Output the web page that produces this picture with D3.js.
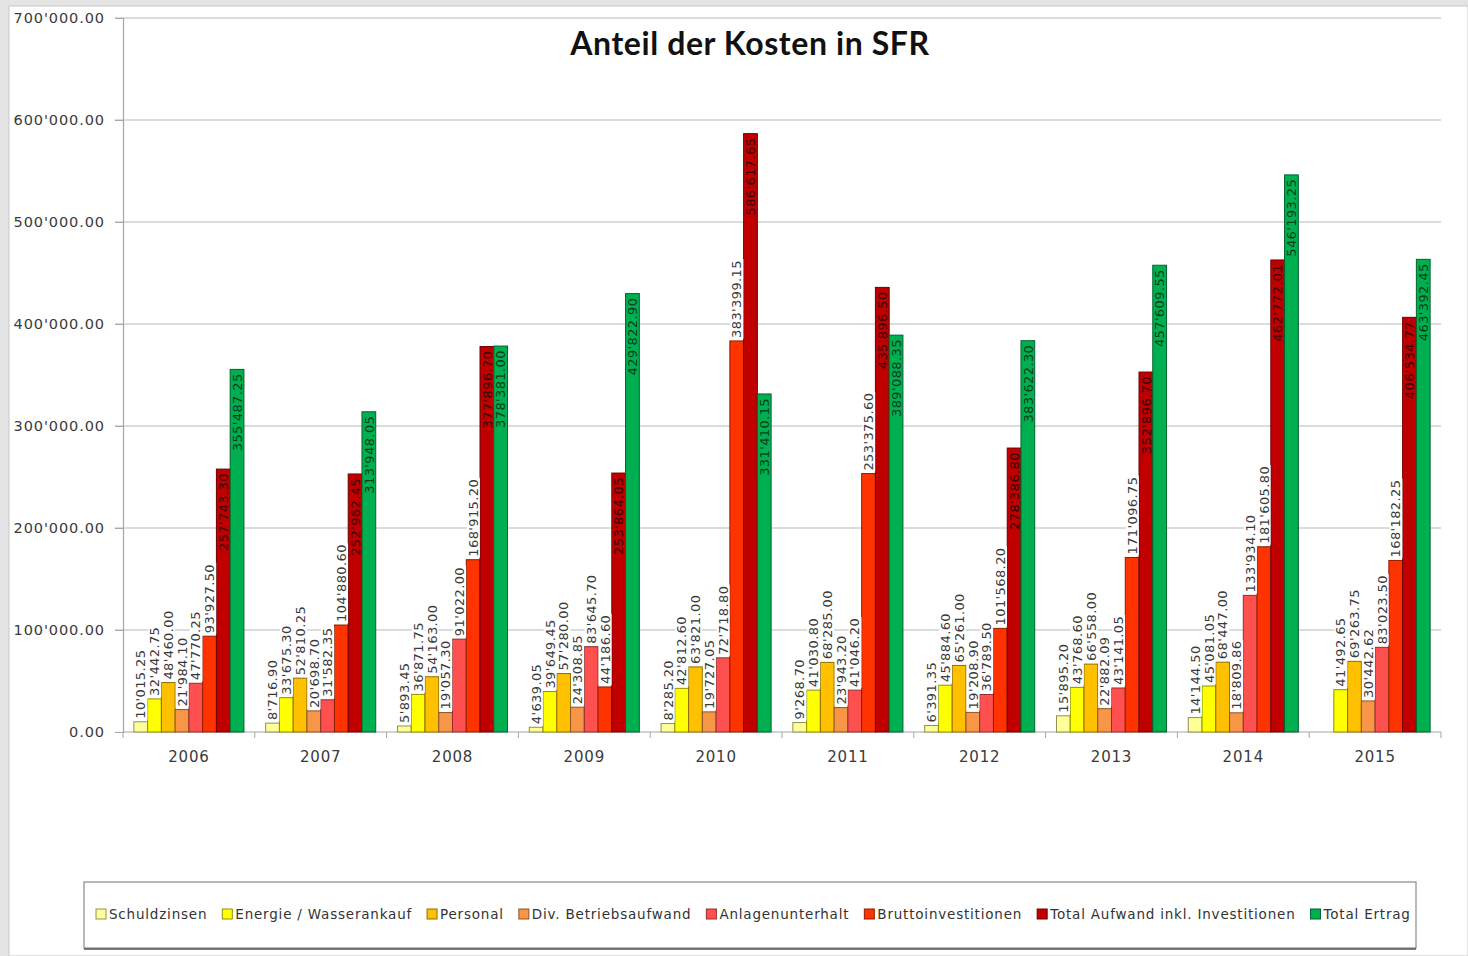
<!DOCTYPE html>
<html><head><meta charset="utf-8">
<script src="https://cdn.jsdelivr.net/npm/d3@7"></script>
<style>
body{margin:0;background:#e4e4e4;}
svg{display:block;}
</style></head>
<body>
<svg id="chart" width="1468" height="956"></svg>
<script>
// ---- data ----
const years = ["2006","2007","2008","2009","2010","2011","2012","2013","2014","2015"];
const seriesNames = ["Schuldzinsen","Energie / Wasserankauf","Personal","Div. Betriebsaufwand","Anlagenunterhalt","Bruttoinvestitionen","Total Aufwand inkl. Investitionen","Total Ertrag"];
const seriesColors = ["#ffff99","#ffff00","#ffc000","#f79646","#ff5050","#ff3300","#c00000","#00b050"];
const schuldzinsen = [10015.25, 8716.90, 5893.45, 4639.05, 8285.20, 9268.70, 6391.35, 15895.20, 14144.50, null];
const energie = [32442.75, 33675.30, 36871.75, 39649.45, 42812.60, 41030.80, 45884.60, 43768.60, 45081.05, 41492.65];
const personal = [48460.00, 52810.25, 54163.00, 57280.00, 63821.00, 68285.00, 65261.00, 66558.00, 68447.00, 69263.75];
const betriebsaufwand = [21984.10, 20698.70, 19057.30, 24308.85, 19727.05, 23943.20, 19208.90, 22882.09, 18809.86, 30442.62];
const anlagenunterhalt = [47770.25, 31582.35, 91022.00, 83645.70, 72718.80, 41046.20, 36789.50, 43141.05, 133934.10, 83023.50];
const bruttoinvestitionen = [93927.50, 104880.60, 168915.20, 44186.60, 383399.15, 253375.60, 101568.20, 171096.75, 181605.80, 168182.25];
const totalAufwand = [257743.30, 252962.45, 377896.70, 253864.05, 586617.65, 435896.50, 278386.80, 352896.70, 462772.01, 406534.77];
const totalErtrag = [355487.25, 313948.05, 378381.00, 429822.90, 331410.15, 389088.35, 383622.30, 457609.55, 546193.25, 463392.45];
const yTicks = [0, 100000, 200000, 300000, 400000, 500000, 600000, 700000];
const title = "Anteil der Kosten in SFR";

const allSeries = [schuldzinsen, energie, personal, betriebsaufwand, anlagenunterhalt, bruttoinvestitionen, totalAufwand, totalErtrag];

// ---- helpers ----
function fmt(v){
  const [i,f] = v.toFixed(2).split(".");
  return i.replace(/\B(?=(\d{3})+(?!\d))/g, "'") + "." + f;
}

const svg = d3.select("#chart");
const W = 1468, H = 956;
const plot = {left:123, right:1441, top:18, bottom:732};

// background
svg.append("rect").attr("x",9).attr("y",6).attr("width",W-9).attr("height",H-6)
  .attr("fill","#ffffff").attr("stroke","#c8c8c8").attr("stroke-width",1);

const y = d3.scaleLinear().domain([0,700000]).range([plot.bottom, plot.top]);
const x0 = d3.scaleBand().domain(years).range([plot.left, plot.right])
  .paddingInner(0.165).paddingOuter(0.0825);
const x1 = d3.scaleBand().domain(d3.range(seriesNames.length)).range([0, x0.bandwidth()]).padding(0);

// gridlines
svg.append("g").selectAll("line").data(yTicks.filter(d=>d>0)).join("line")
  .attr("x1", plot.left-8).attr("x2", plot.right)
  .attr("y1", d=>y(d)).attr("y2", d=>y(d))
  .attr("stroke","#b9b9b9").attr("stroke-width",1.2);

// y axis via d3
const yAxis = svg.append("g").attr("transform",`translate(${plot.left},0)`)
  .call(d3.axisLeft(y).tickValues(yTicks).tickSize(8).tickPadding(10).tickFormat(fmt));
yAxis.select(".domain").attr("stroke","#a6a6a6").attr("stroke-width",1.2);
yAxis.selectAll(".tick line").attr("stroke","#a6a6a6");
yAxis.selectAll("text").attr("font-family","DejaVu Sans").attr("font-size",14.5)
  .attr("letter-spacing","0.9px").attr("fill","#3a3a3a");

// x axis
const xAxisG = svg.append("g").attr("transform",`translate(0,${plot.bottom})`);
xAxisG.append("line").attr("x1",plot.left).attr("x2",plot.right).attr("y1",0).attr("y2",0)
  .attr("stroke","#a6a6a6").attr("stroke-width",1.2);
const step = x0.step();
xAxisG.selectAll("line.tk").data(d3.range(years.length+1)).join("line").attr("class","tk")
  .attr("x1", i=>plot.left + i*step).attr("x2", i=>plot.left + i*step)
  .attr("y1",0).attr("y2",6).attr("stroke","#a6a6a6");
xAxisG.selectAll("text").data(years).join("text")
  .attr("x", d=>x0(d)+x0.bandwidth()/2).attr("y",30)
  .attr("text-anchor","middle").attr("font-family","DejaVu Sans").attr("font-size",15)
  .attr("letter-spacing","0.8px").attr("fill","#3a3a3a").text(d=>d);

// bars
const barData = [];
allSeries.forEach((arr, s) => arr.forEach((v, i) => {
  if (v != null) barData.push({s, year: years[i], v});
}));

svg.append("g").selectAll("rect").data(barData).join("rect")
  .attr("x", d=>x0(d.year)+x1(d.s))
  .attr("y", d=>y(d.v))
  .attr("width", x1.bandwidth())
  .attr("height", d=>y(0)-y(d.v))
  .attr("fill", d=>seriesColors[d.s])
  .attr("stroke", d=>d3.color(seriesColors[d.s]).darker(1.6))
  .attr("stroke-width",1);

// labels
const labG = svg.append("g");
barData.forEach(d => {
  const cx = x0(d.year)+x1(d.s)+x1.bandwidth()/2;
  const inside = d.s >= 6;
  const ty = inside ? y(d.v)+4 : y(d.v)-3;
  const g = labG.append("g").attr("transform",`translate(${cx},${ty}) rotate(-90)`);
  const t = g.append("text")
    .attr("x",0).attr("y",0).attr("dy","0.36em")
    .attr("text-anchor", inside ? "end" : "start")
    .attr("font-family","DejaVu Sans").attr("font-size",13)
    .attr("letter-spacing","0.4px")
    .attr("fill", inside ? (d.s===6 ? "#3b0000" : "#0b3d1c") : "#3a3a3a")
    .text(fmt(d.v));
  if (!inside) {
    const bb = t.node().getBBox();
    g.insert("rect","text").attr("x",bb.x-1).attr("y",bb.y+1).attr("width",bb.width+2).attr("height",bb.height-2)
      .attr("fill","#ffffff");
  }
});

// title
svg.append("text").attr("x",750).attr("y",55).attr("text-anchor","middle")
  .attr("font-family","Lato").attr("font-weight","bold").attr("font-size",32)
  .attr("letter-spacing","0.6px")
  .attr("fill","#111").text(title);

// legend
const lg = svg.append("g");
lg.append("rect").attr("x",84).attr("y",882).attr("width",1332).attr("height",66)
  .attr("fill","#fff").attr("stroke","#8a8a8a").attr("stroke-width",1.2);
lg.append("line").attr("x1",84).attr("x2",1416).attr("y1",949).attr("y2",949).attr("stroke","#555").attr("stroke-width",1.5);
let lx = 96;
seriesNames.forEach((name, s) => {
  lg.append("rect").attr("x",lx).attr("y",909).attr("width",10).attr("height",10)
    .attr("fill",seriesColors[s]).attr("stroke",d3.color(seriesColors[s]).darker(1.6)).attr("stroke-width",1);
  const t = lg.append("text").attr("x",lx+13).attr("y",919)
    .attr("font-family","DejaVu Sans").attr("font-size",13.5).attr("letter-spacing","0.8px")
    .attr("fill","#333").text(name);
  lx += 13 + t.node().getComputedTextLength() + 15;
});
</script>
</body></html>
